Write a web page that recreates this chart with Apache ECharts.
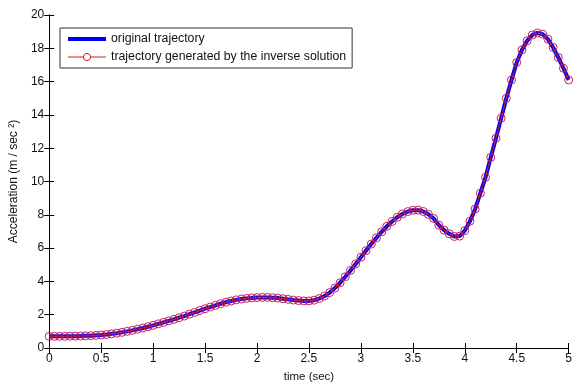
<!DOCTYPE html>
<html>
<head>
<meta charset="utf-8">
<script src="https://cdn.jsdelivr.net/npm/echarts@6/dist/echarts.min.js"></script>
<style>
html,body{margin:0;padding:0;background:#fff;}
#chart{width:575px;height:388px;}
</style>
</head>
<body>
<div id="chart"></div>
<script>
var timeSec = [0.00,0.05,0.10,0.15,0.20,0.25,0.30,0.35,0.40,0.45,0.50,0.55,0.60,0.65,0.70,0.75,0.80,0.85,0.90,0.95,
1.00,1.05,1.10,1.15,1.20,1.25,1.30,1.35,1.40,1.45,1.50,1.55,1.60,1.65,1.70,1.75,1.80,1.85,1.90,1.95,
2.00,2.05,2.10,2.15,2.20,2.25,2.30,2.35,2.40,2.45,2.50,2.55,2.60,2.65,2.70,2.75,2.80,2.85,2.90,2.95,
3.00,3.05,3.10,3.15,3.20,3.25,3.30,3.35,3.40,3.45,3.50,3.55,3.60,3.65,3.70,3.75,3.80,3.85,3.90,3.95,
4.00,4.05,4.10,4.15,4.20,4.25,4.30,4.35,4.40,4.45,4.50,4.55,4.60,4.65,4.70,4.75,4.80,4.85,4.90,4.95,5.00];

var originalAccel = [0.70,0.70,0.70,0.70,0.71,0.71,0.72,0.73,0.74,0.76,0.78,0.81,0.85,0.89,0.94,1.00,1.06,1.13,1.20,1.28,
1.36,1.45,1.54,1.63,1.72,1.82,1.92,2.03,2.14,2.25,2.36,2.46,2.56,2.66,2.75,2.82,2.89,2.94,2.98,3.01,
3.03,3.04,3.04,3.02,3.00,2.96,2.92,2.88,2.85,2.83,2.83,2.87,2.97,3.12,3.33,3.60,3.92,4.28,4.66,5.05,
5.45,5.85,6.24,6.62,6.98,7.31,7.60,7.85,8.05,8.19,8.27,8.28,8.20,8.03,7.78,7.38,7.08,6.86,6.70,6.72,
7.05,7.62,8.35,9.30,10.25,11.45,12.60,13.80,15.00,16.10,17.15,17.90,18.45,18.80,18.92,18.85,18.55,18.05,17.45,16.80,16.10];

var inverseAccel = [0.70,0.70,0.70,0.70,0.71,0.71,0.72,0.73,0.74,0.76,0.78,0.81,0.85,0.89,0.94,1.00,1.06,1.13,1.20,1.28,
1.36,1.45,1.54,1.63,1.72,1.82,1.92,2.03,2.14,2.25,2.36,2.46,2.56,2.66,2.75,2.82,2.89,2.94,2.98,3.01,
3.03,3.04,3.04,3.02,3.00,2.96,2.92,2.88,2.85,2.83,2.83,2.87,2.97,3.12,3.33,3.60,3.92,4.28,4.66,5.05,
5.45,5.85,6.24,6.62,6.98,7.31,7.60,7.85,8.05,8.19,8.27,8.28,8.20,8.03,7.78,7.38,7.08,6.86,6.70,6.72,
7.05,7.62,8.35,9.30,10.25,11.45,12.60,13.80,15.00,16.10,17.15,17.90,18.45,18.80,18.92,18.85,18.55,18.05,17.45,16.80,16.10];

var seriesNames = ['original trajectory', 'trajectory generated by the inverse solution'];

function pairs(xs, ys){ return xs.map(function(x,i){ return [x, ys[i]]; }); }

var FONT = 'Liberation Sans';
var axisCol = '#000';
var blue = '#0000f0';
var red = '#d81c1c';

var chart = echarts.init(document.getElementById('chart'), null, {renderer:'canvas'});
chart.setOption({
  animation:false,
  backgroundColor:'#fff',
  textStyle:{fontFamily:FONT},
  grid:{left:46, right:3, top:15, bottom:35, containLabel:false},
  legend:{
    left:60, top:28, orient:'vertical',
    backgroundColor:'#fff', borderColor:'#333', borderWidth:1,
    padding:[5,6,5,6], itemGap:6, itemWidth:38, itemHeight:9,
    textStyle:{fontFamily:FONT, fontSize:12.3, color:'#111'},
    data:[
      {name:seriesNames[0], itemStyle:{opacity:0}, lineStyle:{color:blue, width:4}},
      {name:seriesNames[1], itemStyle:{color:'#fff', borderColor:red, borderWidth:1}, lineStyle:{color:red, width:1}}
    ]
  },
  xAxis:[{
    type:'value', min:0, max:5, interval:0.5,
    name:'time (sec)', nameLocation:'middle', nameGap:23,
    nameTextStyle:{fontFamily:FONT, fontSize:11.5, color:'#111'},
    axisLine:{show:true, lineStyle:{color:axisCol, width:1}},
    axisTick:{show:true, inside:true, length:5, lineStyle:{color:axisCol}},
    axisLabel:{fontFamily:FONT, fontSize:12, color:'#111', margin:5},
    splitLine:{show:false}
  },{
    type:'value', min:0, max:5, interval:0.5, position:'top',
    axisLine:{show:true, lineStyle:{color:axisCol, width:1}},
    axisTick:{show:true, inside:true, length:5, lineStyle:{color:axisCol}},
    axisLabel:{show:false}, splitLine:{show:false}
  }],
  yAxis:[{
    type:'value', min:0, max:20, interval:2,
    name:'Acceleration (m / sec \u00B2)', nameLocation:'middle', nameGap:29,
    nameTextStyle:{fontFamily:FONT, fontSize:12, color:'#111'},
    axisLine:{show:true, lineStyle:{color:axisCol, width:1}},
    axisTick:{show:true, inside:true, length:5, lineStyle:{color:axisCol}},
    axisLabel:{fontFamily:FONT, fontSize:12, color:'#111', margin:5},
    splitLine:{show:false}
  },{
    type:'value', min:0, max:20, interval:2, position:'right',
    axisLine:{show:true, lineStyle:{color:axisCol, width:1}},
    axisTick:{show:true, inside:true, length:5, lineStyle:{color:axisCol}},
    axisLabel:{show:false}, splitLine:{show:false}
  }],
  series:[{
    name:seriesNames[0], type:'line', xAxisIndex:0, yAxisIndex:0,
    data:pairs(timeSec, originalAccel),
    showSymbol:false, symbol:'none', smooth:false,
    lineStyle:{color:blue, width:4},
    itemStyle:{color:blue}
  },{
    name:seriesNames[1], type:'line', xAxisIndex:0, yAxisIndex:0,
    data:pairs(timeSec, inverseAccel),
    symbol:'circle', symbolSize:8, showSymbol:true, showAllSymbol:true,
    lineStyle:{color:red, width:1},
    itemStyle:{color:'rgba(0,0,0,0)', borderColor:'#c8205a', borderWidth:1}
  }]
});
</script>
</body>
</html>
